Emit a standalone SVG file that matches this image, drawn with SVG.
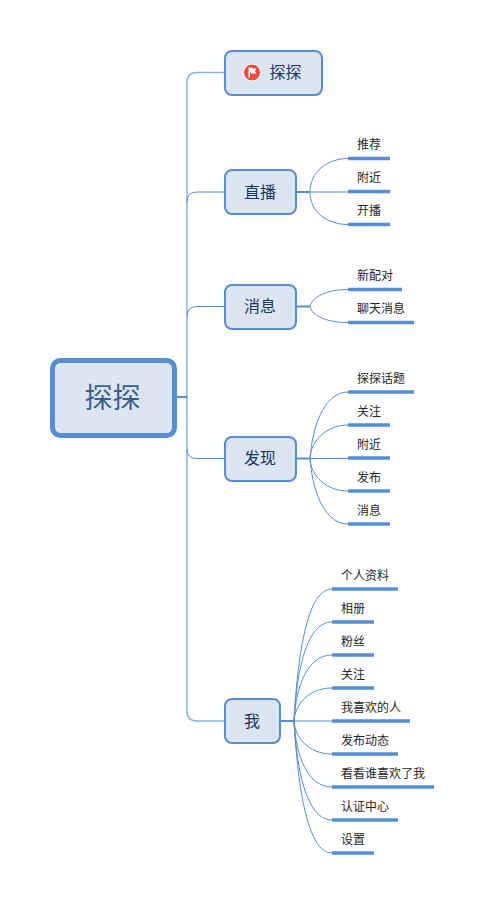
<svg xmlns="http://www.w3.org/2000/svg" width="484" height="905" viewBox="0 0 484 905">
<style>
text{font-family:"Noto Sans CJK SC","Liberation Sans",sans-serif}
.n{fill:#dce6f2;stroke:#558ed5;stroke-width:2}
.t{fill:#17375e;font-size:16px;text-anchor:middle}
.l{fill:#262626;font-size:12px}
.u{stroke:#558ed5;stroke-width:3.5;fill:none}
.c{fill:none;stroke:#558ed5;stroke-width:1}
.s{fill:none;stroke:#558ed5;stroke-width:2}
.k{fill:none;stroke:#8db3e2;stroke-width:1.500}
</style>
<rect width="484" height="905" fill="#fff"/>
<g id="connectors">
<path class="k" d="M187 397V82Q187 72.500 197 72.500H225"/>
<path class="k" d="M187 397V711Q187 721 197 721H225"/>
<path class="s" d="M176 397H187"/>
<path class="c" d="M187 202Q187 192 197 192H225M187 316.500Q187 306.500 197 306.500H225M187 449Q187 458.500 197 458.500H225"/>
<path class="s" d="M296 192H310M296 306.500H310M296 458.500H310M280 721H294"/>
<path class="c" d="M310 192C310 172 327 158.500 348 158.500M310 192H348M310 192C310 212 327 224.500 348 224.500"/>
<path class="c" d="M310 306.500C312 297 327 289.500 348 289.500M310 306.500C312 316 327 322.500 348 322.500"/>
<path class="c" d="M310 458.500C313 420 327 392 348 392M310 458.500C311 440 327 425 348 425M310 458.500H348M310 458.500C311 477 327 491 348 491M310 458.500C313 497 327 524 348 524"/>
<path class="c" d="M294 721C298 650 308 589 332 589M294 721C297 665 308 622 332 622M294 721C296 685 308 655 332 655M294 721C295 705 308 688 332 688M294 721H332M294 721C295 737 308 754 332 754M294 721C296 757 308 787 332 787M294 721C297 775 308 820 332 820M294 721C298 790 308 853 332 853"/>
</g>
<g id="root"><rect x="52.500" y="360.500" width="122" height="75" rx="8" fill="#dce6f2" stroke="#558ed5" stroke-width="5"/><text x="112.500" y="408" text-anchor="middle" font-size="28" fill="#376092">探探</text></g>
<g id="n-tantan"><rect class="n" x="225" y="51" width="97" height="44" rx="7"/>
<circle cx="252" cy="72.500" r="8.500" fill="#f4493f" stroke="#fff" stroke-width="1"/><path d="M248.500 67.500H252.500V68.500H256.500L255 71L256.500 73.500H251V72.500H250V77.500H248.500Z" fill="#fff"/>
<text class="t" x="285.500" y="78">探探</text></g>
<g id="n-live"><rect class="n" x="225" y="170" width="71" height="44" rx="7"/><text class="t" x="260" y="197.500">直播</text></g>
<g id="n-msg"><rect class="n" x="225" y="285" width="71" height="44" rx="7"/><text class="t" x="260" y="312">消息</text></g>
<g id="n-find"><rect class="n" x="225" y="437" width="71" height="44" rx="7"/><text class="t" x="260" y="464">发现</text></g>
<g id="n-me"><rect class="n" x="225" y="699" width="55" height="44" rx="7"/><text class="t" x="252" y="726.500">我</text></g>
<g id="l1"><path class="u" d="M348 158.500H390"/><text class="l" x="357" y="149">推荐</text></g>
<g id="l2"><path class="u" d="M348 191.500H390"/><text class="l" x="357" y="182">附近</text></g>
<g id="l3"><path class="u" d="M348 224.500H390"/><text class="l" x="357" y="215">开播</text></g>
<g id="l4"><path class="u" d="M348 289.500H402"/><text class="l" x="357" y="280">新配对</text></g>
<g id="l5"><path class="u" d="M348 322.500H414"/><text class="l" x="357" y="313">聊天消息</text></g>
<g id="l6"><path class="u" d="M348 392H414"/><text class="l" x="357" y="383">探探话题</text></g>
<g id="l7"><path class="u" d="M348 425H390"/><text class="l" x="357" y="416">关注</text></g>
<g id="l8"><path class="u" d="M348 458H390"/><text class="l" x="357" y="449">附近</text></g>
<g id="l9"><path class="u" d="M348 491H390"/><text class="l" x="357" y="482">发布</text></g>
<g id="l10"><path class="u" d="M348 524H390"/><text class="l" x="357" y="515">消息</text></g>
<g id="l11"><path class="u" d="M332 589H398"/><text class="l" x="341" y="580">个人资料</text></g>
<g id="l12"><path class="u" d="M332 622H374"/><text class="l" x="341" y="613">相册</text></g>
<g id="l13"><path class="u" d="M332 655H374"/><text class="l" x="341" y="646">粉丝</text></g>
<g id="l14"><path class="u" d="M332 688H374"/><text class="l" x="341" y="679">关注</text></g>
<g id="l15"><path class="u" d="M332 721H410"/><text class="l" x="341" y="712">我喜欢的人</text></g>
<g id="l16"><path class="u" d="M332 754H398"/><text class="l" x="341" y="745">发布动态</text></g>
<g id="l17"><path class="u" d="M332 787H434"/><text class="l" x="341" y="778">看看谁喜欢了我</text></g>
<g id="l18"><path class="u" d="M332 820H398"/><text class="l" x="341" y="811">认证中心</text></g>
<g id="l19"><path class="u" d="M332 853H374"/><text class="l" x="341" y="844">设置</text></g>
</svg>
